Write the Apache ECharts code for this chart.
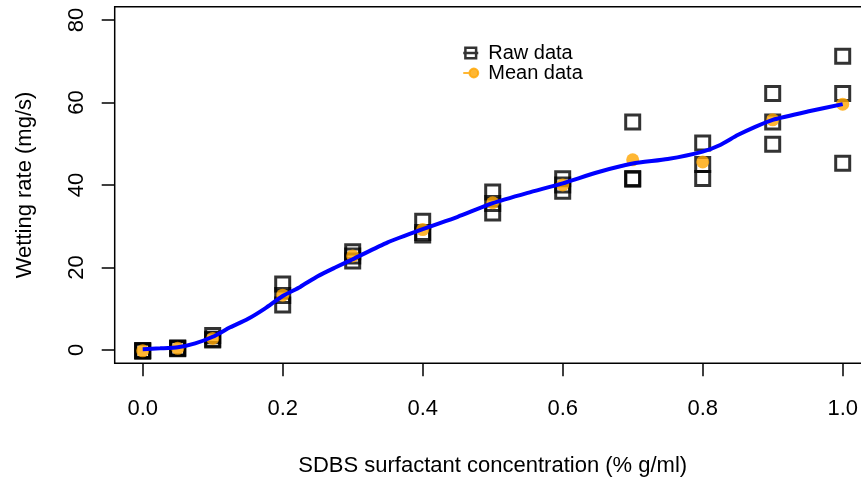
<!DOCTYPE html>
<html>
<head>
<meta charset="utf-8">
<script src="https://cdn.jsdelivr.net/npm/echarts@6/dist/echarts.min.js"></script>
<style>
  html, body { margin: 0; padding: 0; background: #fff; }
  #chart { width: 861px; height: 477px; }
</style>
</head>
<body>
<div id="chart"></div>
<script>
// concentrations (% g/ml) and three replicate wetting rates (mg/s)
const concentrations = [0, 0.05, 0.1, 0.2, 0.3, 0.4, 0.5, 0.6, 0.7, 0.8, 0.9, 1.0];
const rawRep1 = [-0.1, 0.5, 3.5, 16.0, 23.8, 31.2, 38.3, 41.5, 55.3, 50.2, 62.2, 71.2];
const rawRep2 = [-0.2, 0.4, 2.6, 13.2, 22.8, 28.5, 35.5, 40.0, 41.6, 45.0, 55.3, 62.2];
const rawRep3 = [-0.3, 0.3, 2.4, 10.9, 21.6, 27.9, 33.2, 38.5, 41.4, 41.6, 49.9, 45.3];
const meanRate = [-0.2, 0.4, 2.8, 13.3, 22.8, 29.2, 35.7, 40.0, 46.1, 45.6, 55.8, 59.6];

// smoothed fit (blue curve)
const fitX = [0, 0.025, 0.05, 0.075, 0.1, 0.125, 0.15, 0.175, 0.2, 0.225, 0.25, 0.275, 0.3, 0.35,
  0.4, 0.45, 0.5, 0.55, 0.6, 0.65, 0.7, 0.75, 0.8, 0.825, 0.85, 0.875, 0.9, 0.95, 1.0];
const fitY = [0.2, 0.4, 0.65, 1.6, 3.2, 5.5, 7.5, 10.1, 13.1, 15.3, 17.9, 20.0, 22.0, 26.1,
  29.3, 32.3, 35.6, 38.1, 40.4, 43.1, 45.2, 46.3, 48.1, 49.7, 52.1, 54.1, 55.8, 57.8, 59.6];

const xTicks = [0, 0.2, 0.4, 0.6, 0.8, 1.0];
const yTicks = [0, 20, 40, 60, 80];

const FONT = "'Liberation Sans', Arial, sans-serif";
const FS = 22;

const rawPoints = [];
[rawRep1, rawRep2, rawRep3].forEach((rep) => {
  rep.forEach((v, i) => rawPoints.push([concentrations[i], v]));
});
const meanPoints = meanRate.map((v, i) => [concentrations[i], v]);
const fitPoints = fitY.map((v, i) => [fitX[i], v]);

const chart = echarts.init(document.getElementById("chart"));

const option = {
  animation: false,
  backgroundColor: "#fff",
  textStyle: { fontFamily: FONT, color: "#000" },
  grid: {
    left: 114.7,
    top: 6.8,
    width: 756,
    height: 356.4,
    outerBoundsMode: "none",
    containLabel: false,
    show: true,
    borderColor: "#000",
    borderWidth: 1.5,
    backgroundColor: "transparent",
  },
  legend: {
    orient: "vertical",
    left: 457,
    top: 38,
    itemWidth: 15,
    itemHeight: 11,
    itemGap: 0,
    textStyle: { fontFamily: FONT, fontSize: 20, lineHeight: 20, color: "#000", padding: [0, 0, 0, 5] },
    data: [
      {
        name: "Raw data",
        icon: "path://M2,1 L12,1 L12,11 L2,11 Z M0,6 L14,6",
        itemStyle: { color: "transparent", borderColor: "#000", borderWidth: 2.5 },
      },
      {
        name: "Mean data",
        icon: "path://M0,6 L7,6 M7,6 A5,5 0 1,1 17,6 A5,5 0 1,1 7,6 Z",
        itemStyle: { color: "#FFA500", borderColor: "#FFA500", borderWidth: 2 },
      },
    ],
  },
  xAxis: {
    type: "value",
    min: -0.04,
    max: 1.04,
    splitLine: { show: false },
    axisLine: { show: false, onZero: false },
    axisTick: {
      show: true,
      customValues: xTicks,
      length: 13,
      lineStyle: { color: "#000", width: 1.5 },
    },
    axisLabel: {
      customValues: xTicks,
      formatter: (v) => v.toFixed(1),
      fontFamily: FONT,
      fontSize: FS,
      color: "#000",
      margin: 35,
    },
    name: "SDBS surfactant concentration (% g/ml)",
    nameLocation: "middle",
    nameGap: 92,
    nameTextStyle: { fontFamily: FONT, fontSize: FS, color: "#000" },
  },
  yAxis: {
    type: "value",
    min: -3.2,
    max: 83.2,
    splitLine: { show: false },
    axisLine: { show: false, onZero: false },
    axisTick: {
      show: true,
      customValues: yTicks,
      length: 13,
      lineStyle: { color: "#000", width: 1.5 },
    },
    axisLabel: {
      customValues: yTicks,
      rotate: 90,
      fontFamily: FONT,
      fontSize: FS,
      color: "#000",
      margin: 27,
    },
    name: "Wetting rate (mg/s)",
    nameLocation: "middle",
    nameGap: 79,
    nameTextStyle: { fontFamily: FONT, fontSize: FS, color: "#000" },
  },
  series: [
    {
      name: "Raw data",
      type: "scatter",
      symbol: "rect",
      symbolSize: 14,
      data: rawPoints,
      itemStyle: { color: "transparent", borderColor: "#000", borderWidth: 3 },
      z: 2,
    },
    {
      name: "Mean data",
      type: "scatter",
      symbol: "circle",
      symbolSize: 13,
      data: meanPoints,
      itemStyle: { color: "#FFA500" },
      z: 3,
    },
    {
      name: "fit",
      type: "line",
      data: fitPoints,
      smooth: 0.2,
      showSymbol: false,
      lineStyle: { color: "#0000FF", width: 4 },
      z: 4,
    },
  ],
};

chart.setOption(option);
</script>
</body>
</html>
